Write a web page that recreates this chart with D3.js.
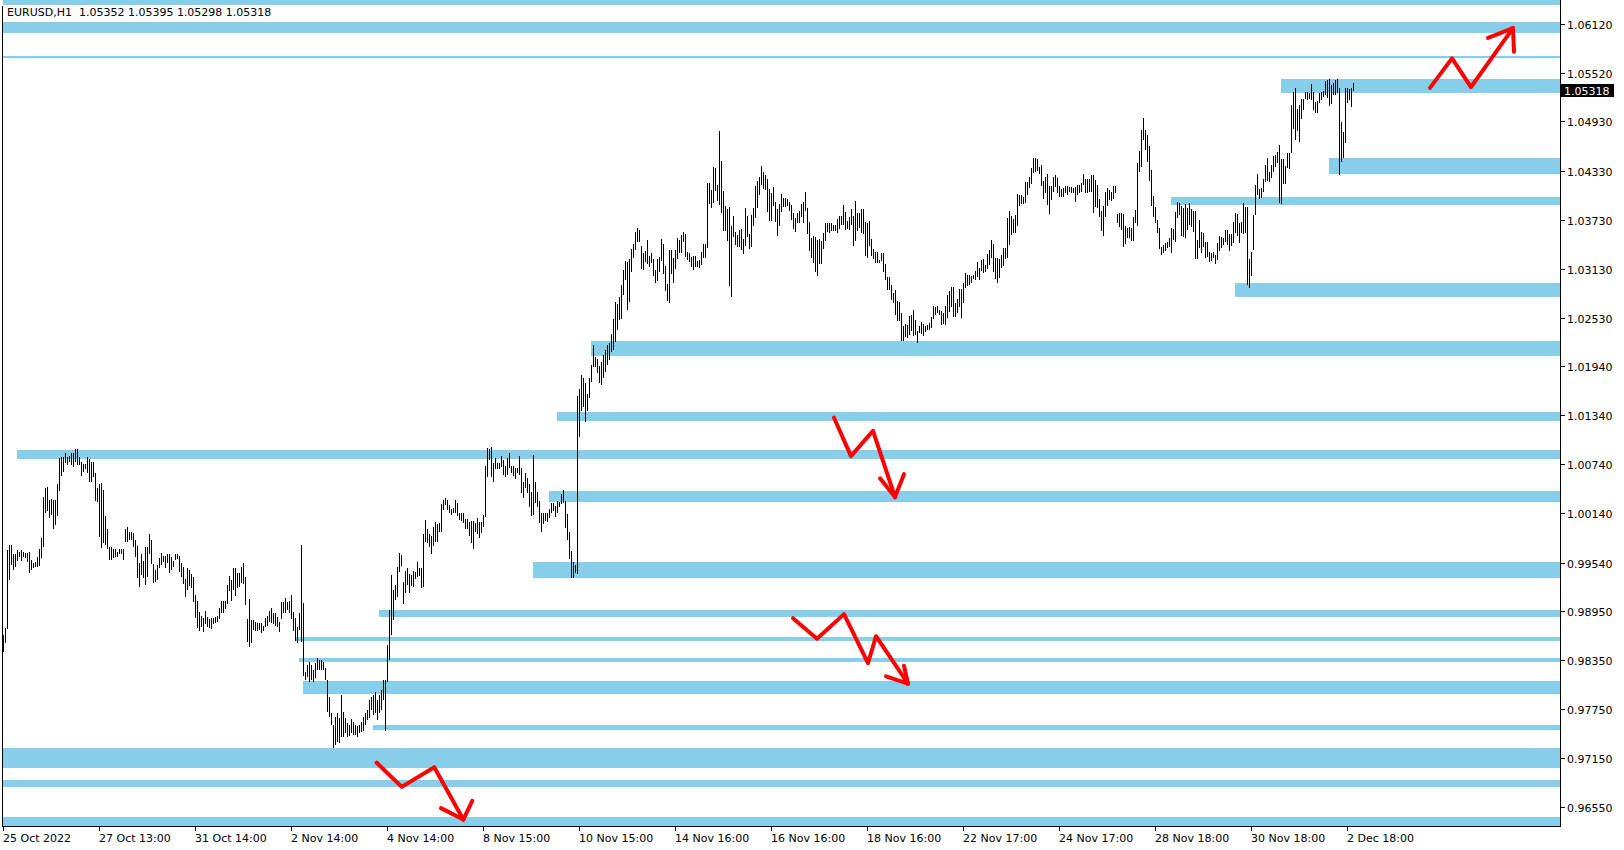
<!DOCTYPE html>
<html><head><meta charset="utf-8">
<script src="https://cdn.jsdelivr.net/npm/d3@7/dist/d3.min.js"></script>
<style>html,body{margin:0;padding:0;background:#fff;overflow:hidden}svg{display:block}</style>
</head><body>
<svg id="chart" width="1624" height="850"></svg>
<script>
// ---------- data ----------
const symbol = "EURUSD,H1";
const lastOHLC = [1.05352, 1.05395, 1.05298, 1.05318];
const timeLabels = ["25 Oct 2022","27 Oct 13:00","31 Oct 14:00","2 Nov 14:00","4 Nov 14:00","8 Nov 15:00","10 Nov 15:00","14 Nov 16:00","16 Nov 16:00","18 Nov 16:00","22 Nov 17:00","24 Nov 17:00","28 Nov 18:00","30 Nov 18:00","2 Dec 18:00"];
const timeLabelBars = [0,48,96,144,192,240,288,336,384,432,480,528,576,624,672];
const priceTicks = [1.06120,1.05520,1.04930,1.04330,1.03730,1.03130,1.02530,1.01940,1.01340,1.00740,1.00140,0.99540,0.98950,0.98350,0.97750,0.97150,0.96550];

const high = [
0.9865,0.9874,0.9969,0.9975,0.9975,0.9964,0.9964,0.9969,0.9967,0.9969,
0.9967,0.9966,0.9966,0.9967,0.9957,0.9953,0.9955,0.9961,0.9970,0.9984,
1.0034,1.0045,1.0046,1.0030,1.0032,1.0030,1.0030,1.0050,1.0082,1.0083,
1.0083,1.0088,1.0083,1.0084,1.0088,1.0088,1.0093,1.0093,1.0083,1.0077,
1.0074,1.0074,1.0083,1.0080,1.0077,1.0077,1.0063,1.0045,1.0050,1.0051,
1.0043,1.0011,0.9995,0.9973,0.9973,0.9971,0.9971,0.9967,0.9971,0.9971,
0.9971,0.9995,0.9997,0.9991,0.9991,0.9990,0.9981,0.9974,0.9953,0.9964,
0.9956,0.9973,0.9973,0.9989,0.9981,0.9952,0.9945,0.9951,0.9960,0.9966,
0.9962,0.9962,0.9964,0.9964,0.9961,0.9956,0.9964,0.9964,0.9962,0.9953,
0.9949,0.9934,0.9947,0.9945,0.9940,0.9936,0.9914,0.9907,0.9893,0.9889,
0.9886,0.9895,0.9887,0.9885,0.9886,0.9886,0.9887,0.9889,0.9898,0.9907,
0.9907,0.9907,0.9926,0.9937,0.9933,0.9947,0.9947,0.9941,0.9941,0.9948,
0.9953,0.9936,0.9885,0.9909,0.9884,0.9884,0.9882,0.9880,0.9880,0.9880,
0.9877,0.9886,0.9889,0.9895,0.9898,0.9892,0.9892,0.9887,0.9881,0.9906,
0.9906,0.9911,0.9906,0.9907,0.9914,0.9893,0.9886,0.9875,0.9892,0.9975,
0.9904,0.9820,0.9829,0.9832,0.9829,0.9823,0.9831,0.9837,0.9835,0.9835,
0.9832,0.9825,0.9810,0.9790,0.9770,0.9756,0.9765,0.9770,0.9764,0.9792,
0.9771,0.9764,0.9758,0.9756,0.9763,0.9759,0.9756,0.9754,0.9756,0.9759,
0.9765,0.9770,0.9774,0.9786,0.9790,0.9792,0.9796,0.9786,0.9792,0.9798,
0.9810,0.9810,0.9853,0.9896,0.9939,0.9920,0.9926,0.9949,0.9966,0.9963,
0.9930,0.9944,0.9947,0.9940,0.9939,0.9944,0.9942,0.9955,0.9947,0.9947,
0.9989,1.0006,0.9995,0.9989,0.9987,0.9997,1.0004,1.0001,1.0002,1.0025,
1.0030,1.0033,1.0030,1.0024,1.0019,1.0021,1.0030,1.0027,1.0014,1.0014,
1.0014,1.0007,1.0007,1.0003,1.0005,1.0005,1.0002,1.0008,1.0003,1.0003,
1.0012,1.0072,1.0094,1.0093,1.0095,1.0076,1.0082,1.0076,1.0076,1.0084,
1.0079,1.0072,1.0082,1.0088,1.0072,1.0072,1.0069,1.0070,1.0084,1.0069,
1.0052,1.0063,1.0057,1.0050,1.0040,1.0085,1.0052,1.0040,1.0029,1.0014,
1.0014,1.0014,1.0014,1.0019,1.0027,1.0027,1.0023,1.0029,1.0028,1.0038,
1.0043,1.0029,1.0013,0.9991,0.9968,0.9955,0.9951,1.0157,1.0166,1.0183,
1.0179,1.0173,1.0160,1.0179,1.0195,1.0220,1.0205,1.0203,1.0194,1.0199,
1.0208,1.0214,1.0220,1.0222,1.0233,1.0252,1.0272,1.0270,1.0278,1.0293,
1.0311,1.0322,1.0321,1.0325,1.0337,1.0343,1.0358,1.0363,1.0360,1.0341,
1.0332,1.0335,1.0348,1.0328,1.0332,1.0325,1.0311,1.0325,1.0327,1.0349,
1.0343,1.0316,1.0294,1.0336,1.0336,1.0326,1.0336,1.0350,1.0348,1.0354,
1.0358,1.0355,1.0333,1.0332,1.0327,1.0328,1.0328,1.0322,1.0324,1.0333,
1.0343,1.0343,1.0418,1.0418,1.0409,1.0437,1.0436,1.0415,1.0481,1.0445,
1.0408,1.0390,1.0386,1.0388,1.0365,1.0377,1.0358,1.0354,1.0360,1.0361,
1.0349,1.0387,1.0377,1.0355,1.0379,1.0387,1.0414,1.0420,1.0425,1.0438,
1.0431,1.0427,1.0423,1.0410,1.0405,1.0413,1.0394,1.0386,1.0392,1.0404,
1.0399,1.0399,1.0398,1.0394,1.0391,1.0381,1.0375,1.0381,1.0383,1.0392,
1.0394,1.0407,1.0387,1.0370,1.0350,1.0353,1.0352,1.0348,1.0349,1.0347,
1.0357,1.0369,1.0369,1.0369,1.0369,1.0366,1.0366,1.0374,1.0377,1.0377,
1.0391,1.0382,1.0371,1.0376,1.0386,1.0377,1.0396,1.0381,1.0381,1.0386,
1.0386,1.0370,1.0369,1.0371,1.0349,1.0337,1.0333,1.0333,1.0324,1.0332,
1.0332,1.0319,1.0303,1.0303,1.0293,1.0283,1.0287,1.0274,1.0272,1.0259,
1.0243,1.0245,1.0244,1.0255,1.0256,1.0263,1.0250,1.0237,1.0243,1.0248,
1.0245,1.0243,1.0244,1.0247,1.0254,1.0267,1.0266,1.0267,1.0263,1.0261,
1.0259,1.0267,1.0281,1.0286,1.0291,1.0291,1.0271,1.0276,1.0288,1.0288,
1.0295,1.0308,1.0305,1.0305,1.0304,1.0305,1.0310,1.0321,1.0314,1.0324,
1.0325,1.0318,1.0331,1.0336,1.0348,1.0343,1.0326,1.0326,1.0325,1.0330,
1.0338,1.0338,1.0375,1.0383,1.0377,1.0374,1.0379,1.0404,1.0403,1.0403,
1.0401,1.0419,1.0419,1.0425,1.0436,1.0448,1.0448,1.0447,1.0437,1.0440,
1.0420,1.0425,1.0429,1.0414,1.0414,1.0425,1.0427,1.0424,1.0414,1.0410,
1.0412,1.0414,1.0414,1.0413,1.0413,1.0412,1.0413,1.0415,1.0415,1.0418,
1.0429,1.0423,1.0423,1.0423,1.0427,1.0427,1.0421,1.0415,1.0398,1.0383,
1.0390,1.0407,1.0412,1.0409,1.0407,1.0414,1.0414,1.0380,1.0381,1.0381,
1.0380,1.0365,1.0363,1.0364,1.0363,1.0376,1.0385,1.0442,1.0457,1.0482,
1.0497,1.0482,1.0476,1.0463,1.0434,1.0402,1.0388,1.0373,1.0363,1.0340,
1.0342,1.0344,1.0346,1.0350,1.0363,1.0361,1.0382,1.0394,1.0393,1.0390,
1.0387,1.0392,1.0387,1.0393,1.0386,1.0383,1.0383,1.0348,1.0372,1.0358,
1.0357,1.0346,1.0346,1.0333,1.0332,1.0333,1.0330,1.0344,1.0353,1.0352,
1.0350,1.0360,1.0360,1.0355,1.0355,1.0370,1.0381,1.0380,1.0369,1.0370,
1.0393,1.0388,1.0388,1.0325,1.0333,1.0379,1.0415,1.0429,1.0410,1.0412,
1.0423,1.0440,1.0448,1.0431,1.0440,1.0451,1.0452,1.0456,1.0464,1.0447,
1.0447,1.0438,1.0454,1.0454,1.0513,1.0529,1.0534,1.0508,1.0513,1.0520,
1.0520,1.0529,1.0529,1.0528,1.0539,1.0529,1.0517,1.0518,1.0528,1.0529,
1.0530,1.0542,1.0544,1.0545,1.0537,1.0540,1.0544,1.0545,1.0534,1.0492,
1.0480,1.0534,1.0534,1.0533,1.0534,1.05395];

const low = [
0.9845,0.9856,0.9873,0.9933,0.9951,0.9945,0.9949,0.9956,0.9961,0.9956,
0.9961,0.9960,0.9955,0.9941,0.9945,0.9947,0.9949,0.9949,0.9950,0.9960,
0.9973,1.0015,1.0017,1.0008,1.0012,0.9995,1.0000,1.0011,1.0041,1.0060,
1.0065,1.0076,1.0073,1.0077,1.0073,1.0071,1.0077,1.0073,1.0073,1.0060,
1.0065,1.0068,1.0063,1.0052,1.0052,1.0058,1.0029,1.0028,0.9985,0.9972,
0.9978,0.9975,0.9970,0.9957,0.9957,0.9960,0.9961,0.9961,0.9964,0.9964,
0.9957,0.9979,0.9979,0.9981,0.9981,0.9973,0.9961,0.9935,0.9924,0.9939,
0.9935,0.9926,0.9936,0.9964,0.9952,0.9929,0.9930,0.9933,0.9947,0.9951,
0.9955,0.9947,0.9953,0.9941,0.9945,0.9949,0.9957,0.9958,0.9942,0.9936,
0.9928,0.9912,0.9920,0.9925,0.9923,0.9906,0.9886,0.9874,0.9870,0.9875,
0.9869,0.9879,0.9875,0.9874,0.9873,0.9879,0.9880,0.9881,0.9885,0.9892,
0.9892,0.9897,0.9903,0.9919,0.9907,0.9920,0.9913,0.9923,0.9924,0.9929,
0.9928,0.9902,0.9857,0.9851,0.9856,0.9872,0.9870,0.9870,0.9872,0.9868,
0.9870,0.9875,0.9877,0.9882,0.9880,0.9879,0.9876,0.9875,0.9869,0.9885,
0.9892,0.9892,0.9896,0.9892,0.9885,0.9870,0.9858,0.9856,0.9872,0.9857,
0.9816,0.9810,0.9814,0.9808,0.9810,0.9808,0.9813,0.9823,0.9823,0.9823,
0.9823,0.9810,0.9771,0.9765,0.9756,0.9728,0.9731,0.9735,0.9733,0.9741,
0.9741,0.9746,0.9741,0.9742,0.9746,0.9743,0.9743,0.9741,0.9746,0.9747,
0.9748,0.9756,0.9762,0.9764,0.9774,0.9768,0.9770,0.9762,0.9770,0.9774,
0.9786,0.9748,0.9808,0.9835,0.9866,0.9884,0.9908,0.9912,0.9942,0.9950,
0.9903,0.9917,0.9926,0.9917,0.9925,0.9924,0.9934,0.9936,0.9937,0.9923,
0.9924,0.9979,0.9978,0.9973,0.9965,0.9974,0.9979,0.9979,0.9991,0.9991,
1.0018,1.0024,1.0018,1.0014,1.0012,1.0014,1.0014,1.0011,1.0006,1.0005,
1.0002,0.9995,0.9995,0.9986,0.9978,0.9971,0.9991,0.9989,0.9984,0.9990,
0.9997,1.0010,1.0058,1.0079,1.0058,1.0052,1.0068,1.0068,1.0068,1.0071,
1.0061,1.0058,1.0061,1.0069,1.0063,1.0060,1.0056,1.0063,1.0061,1.0039,
1.0033,1.0045,1.0039,1.0022,1.0011,1.0012,1.0027,1.0022,1.0002,0.9991,
1.0001,1.0005,1.0003,1.0008,1.0014,1.0017,1.0010,1.0014,1.0022,1.0025,
1.0027,0.9996,0.9981,0.9958,0.9935,0.9935,0.9941,0.9940,1.0107,1.0139,
1.0144,1.0126,1.0139,1.0155,1.0175,1.0193,1.0193,1.0186,1.0173,1.0171,
1.0179,1.0187,1.0195,1.0201,1.0211,1.0214,1.0223,1.0238,1.0250,1.0252,
1.0281,1.0299,1.0263,1.0272,1.0309,1.0326,1.0336,1.0346,1.0346,1.0313,
1.0311,1.0321,1.0319,1.0315,1.0320,1.0304,1.0295,1.0298,1.0309,1.0322,
1.0306,1.0286,1.0274,1.0271,1.0306,1.0295,1.0313,1.0325,1.0332,1.0332,
1.0346,1.0327,1.0324,1.0321,1.0315,1.0311,1.0315,1.0315,1.0314,1.0317,
1.0326,1.0326,1.0338,1.0392,1.0387,1.0393,1.0408,1.0396,1.0391,1.0381,
1.0359,1.0359,1.0347,1.0292,1.0278,1.0352,1.0342,1.0340,1.0340,1.0336,
1.0331,1.0341,1.0352,1.0337,1.0340,1.0365,1.0375,1.0387,1.0403,1.0415,
1.0410,1.0409,1.0382,1.0371,1.0371,1.0390,1.0370,1.0353,1.0365,1.0382,
1.0388,1.0388,1.0390,1.0383,1.0372,1.0361,1.0358,1.0369,1.0369,1.0376,
1.0369,1.0383,1.0355,1.0335,1.0326,1.0320,1.0309,1.0304,1.0319,1.0319,
1.0337,1.0347,1.0358,1.0357,1.0359,1.0359,1.0359,1.0357,1.0361,1.0366,
1.0366,1.0360,1.0361,1.0360,1.0366,1.0341,1.0347,1.0359,1.0363,1.0357,
1.0355,1.0329,1.0326,1.0341,1.0329,1.0325,1.0320,1.0320,1.0320,1.0322,
1.0309,1.0299,1.0287,1.0287,1.0275,1.0271,1.0256,1.0249,1.0249,1.0225,
1.0225,1.0230,1.0228,1.0232,1.0237,1.0231,1.0232,1.0222,1.0234,1.0233,
1.0231,1.0236,1.0238,1.0238,1.0241,1.0252,1.0256,1.0259,1.0256,1.0244,
1.0245,1.0244,1.0253,1.0260,1.0266,1.0254,1.0254,1.0259,1.0266,1.0253,
1.0271,1.0289,1.0292,1.0293,1.0295,1.0300,1.0299,1.0303,1.0299,1.0310,
1.0308,1.0309,1.0313,1.0318,1.0326,1.0309,1.0300,1.0295,1.0302,1.0314,
1.0316,1.0325,1.0326,1.0342,1.0354,1.0357,1.0357,1.0365,1.0390,1.0392,
1.0392,1.0393,1.0403,1.0412,1.0417,1.0430,1.0431,1.0432,1.0429,1.0414,
1.0398,1.0405,1.0391,1.0380,1.0397,1.0407,1.0413,1.0405,1.0401,1.0401,
1.0401,1.0405,1.0403,1.0407,1.0405,1.0405,1.0394,1.0403,1.0405,1.0407,
1.0415,1.0405,1.0405,1.0407,1.0407,1.0381,1.0388,1.0387,1.0376,1.0359,
1.0353,1.0376,1.0390,1.0397,1.0396,1.0398,1.0405,1.0369,1.0364,1.0360,
1.0340,1.0343,1.0351,1.0351,1.0347,1.0347,1.0369,1.0365,1.0431,1.0437,
1.0470,1.0458,1.0443,1.0420,1.0390,1.0376,1.0369,1.0357,1.0337,1.0330,
1.0332,1.0335,1.0338,1.0339,1.0332,1.0348,1.0346,1.0375,1.0379,1.0353,
1.0352,1.0350,1.0360,1.0366,1.0364,1.0358,1.0325,1.0325,1.0338,1.0332,
1.0340,1.0326,1.0327,1.0321,1.0322,1.0326,1.0319,1.0324,1.0335,1.0338,
1.0342,1.0346,1.0342,1.0335,1.0341,1.0344,1.0357,1.0353,1.0344,1.0357,
1.0355,1.0357,1.0293,1.0289,1.0304,1.0336,1.0379,1.0403,1.0398,1.0399,
1.0407,1.0419,1.0420,1.0419,1.0424,1.0431,1.0437,1.0442,1.0393,1.0392,
1.0417,1.0417,1.0436,1.0435,1.0454,1.0484,1.0470,1.0481,1.0468,1.0496,
1.0507,1.0520,1.0519,1.0520,1.0519,1.0507,1.0503,1.0503,1.0515,1.0519,
1.0523,1.0525,1.0522,1.0512,1.0514,1.0525,1.0525,1.0528,1.0427,1.0443,
1.0448,1.0467,1.0515,1.0519,1.0511,1.05298];

// support / resistance zones: [start bar (null = from left edge), upper price, lower price]
const zones = [
  [null, 1.0650, 1.0635],
  [null, 1.0614, 1.0601],
  [null, 1.0573, 1.0571],
  [639, 1.0545, 1.0528],
  [663, 1.0448, 1.0429],
  [584, 1.0401, 1.0391],
  [616, 1.0296, 1.0278],
  [294, 1.0225, 1.0206],
  [277, 1.0138, 1.0127],
  [7,   1.0092, 1.0080],
  [273, 1.0041, 1.0028],
  [265, 0.9955, 0.9935],
  [188, 0.9896, 0.9887],
  [146, 0.9863, 0.9858],
  [148, 0.9838, 0.9832],
  [150, 0.9809, 0.9793],
  [185, 0.9756, 0.9749],
  [null, 0.9727, 0.9703],
  [null, 0.9688, 0.9680],
  [null, 0.9643, 0.9625]
];

// hand-drawn arrows: polyline points [bar, price]; last point is the tip; heads = two barb points
const arrowLines = [
  [[713.5,1.0534],[724.5,1.0570],[734,1.0535],[755,1.0607]],
  [[415.5,1.0131],[424,1.0084],[435,1.0115],[446,1.0034]],
  [[395,0.9886],[407,0.9861],[420.5,0.9891],[432.5,0.9831],[436.5,0.9864],[452.5,0.9806]],
  [[186.85,0.97095],[199.35,0.9680],[215.65,0.9704],[230.15,0.9640]]
];
const arrowHeads = [
  [[742.5,1.0595],[755.5,1.0578]],
  [[438.5,1.0057],[450.5,1.0062]],
  [[441.5,0.9815],[450.5,0.9828]],
  [[219,0.9654],[234.65,0.9663]]
];

// ---------- drawing ----------
const svg = d3.select("#chart");
const FONT = "'DejaVu Sans', Verdana, sans-serif";
const plot = {left: 2.5, right: 1560.5, top: 0, bottom: 826.5};
const n = high.length;

const x = d3.scaleLinear().domain([0, n - 1]).range([3, 3 + 2 * (n - 1)]);
const y = d3.scaleLinear().domain([priceTicks[priceTicks.length - 1], priceTicks[0]]).range([807.3, 24]);

svg.append("defs").append("clipPath").attr("id", "clip")
  .append("rect").attr("x", plot.left).attr("y", plot.top)
  .attr("width", plot.right - plot.left).attr("height", plot.bottom - plot.top);

const g = svg.append("g").attr("clip-path", "url(#clip)");

// zones
g.append("g").selectAll("rect").data(zones).join("rect")
  .attr("x", d => d[0] === null ? plot.left : Math.round(x(d[0])))
  .attr("width", d => plot.right - (d[0] === null ? plot.left : Math.round(x(d[0]))))
  .attr("y", d => Math.round(y(d[1])))
  .attr("height", d => Math.max(2, Math.round(y(d[2])) - Math.round(y(d[1]))))
  .attr("fill", "#87CEEB")
  .attr("shape-rendering", "crispEdges");

// bars (high-low)
g.append("g").selectAll("rect").data(d3.range(n)).join("rect")
  .attr("x", i => Math.round(x(i)))
  .attr("width", 1)
  .attr("y", i => Math.round(y(high[i])))
  .attr("height", i => Math.max(1, Math.round(y(low[i])) - Math.round(y(high[i]))))
  .attr("fill", "#000")
  .attr("shape-rendering", "crispEdges");

// arrows
const line = d3.line().x(d => x(d[0])).y(d => y(d[1]));
const ag = g.append("g").attr("fill", "none").attr("stroke", "#FF0000")
  .attr("stroke-width", 4).attr("stroke-linejoin", "round").attr("stroke-linecap", "round");
arrowLines.forEach((pts, k) => {
  ag.append("path").attr("d", line(pts));
  const tip = pts[pts.length - 1];
  arrowHeads[k].forEach(h => ag.append("path").attr("d", line([h, tip])));
});

// frame / axes
const fg = svg.append("g").attr("stroke", "#000").attr("stroke-width", 1).attr("shape-rendering", "crispEdges");
fg.append("line").attr("x1", plot.left).attr("x2", plot.left).attr("y1", 5.5).attr("y2", plot.bottom);
fg.append("line").attr("x1", plot.right).attr("x2", plot.right).attr("y1", 0).attr("y2", plot.bottom);
fg.append("line").attr("x1", plot.left).attr("x2", plot.right).attr("y1", plot.bottom).attr("y2", plot.bottom);

// y ticks
priceTicks.forEach(v => {
  const yy = Math.round(y(v)) + 0.5;
  fg.append("line").attr("x1", plot.right).attr("x2", plot.right + 4).attr("y1", yy).attr("y2", yy);
});
svg.append("g").selectAll("text").data(priceTicks).join("text")
  .attr("x", 1567).attr("y", v => Math.round(y(v)) + 4.5)
  .attr("font-family", FONT).attr("font-size", 11).attr("fill", "#000")
  .text(v => v.toFixed(5));

// current price label
const close = lastOHLC[3];
const cy = Math.round(y(close));
svg.append("rect").attr("x", 1561).attr("y", cy - 6).attr("width", 53).attr("height", 13).attr("fill", "#000");
svg.append("text").attr("x", 1564).attr("y", cy + 4.5)
  .attr("font-family", FONT).attr("font-size", 11).attr("fill", "#fff").text(close.toFixed(5));

// x ticks & labels
timeLabelBars.forEach(b => {
  const xx = Math.round(x(b)) + 0.5;
  fg.append("line").attr("x1", xx).attr("x2", xx).attr("y1", plot.bottom).attr("y2", plot.bottom + 4);
});
svg.append("g").selectAll("text").data(timeLabels).join("text")
  .attr("x", (d, i) => Math.round(x(timeLabelBars[i])))
  .attr("y", 842)
  .attr("font-family", FONT).attr("font-size", 11).attr("fill", "#000")
  .text(d => d);

// title
svg.append("text").attr("x", 7).attr("y", 16)
  .attr("font-family", FONT).attr("font-size", 11).attr("fill", "#000")
  .style("white-space", "pre")
  .text(symbol + "  " + lastOHLC.map(v => v.toFixed(5)).join(" "));
</script>
</body></html>
